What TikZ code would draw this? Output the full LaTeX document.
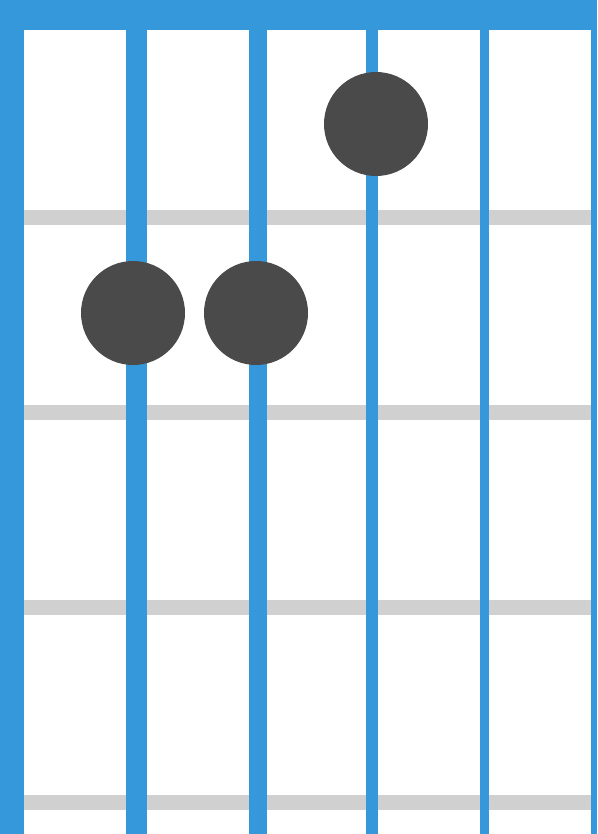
\documentclass[tikz,border=0pt]{standalone}
\definecolor{fb}{HTML}{3498DB}
\definecolor{fg}{HTML}{D0D0D0}
\definecolor{dot}{HTML}{4A4A4A}
\begin{document}
\begin{tikzpicture}[x=1pt,y=-1pt,
  fretbar/.style={fill=fg,draw=none},
  strbar/.style={fill=fb,draw=none},
  fingerdot/.style={circle,fill=dot,draw=none,minimum size=104pt,inner sep=0pt}]
\useasboundingbox (0,0) rectangle (597,834);
\fill[white] (0,0) rectangle (597,834);
% frets
\foreach \y in {210,405,600,795} \fill[fretbar] (0,\y) rectangle (597,\y+15);
% strings
\fill[strbar] (0,0) rectangle (24,834);
\fill[strbar] (126,0) rectangle (147,834);
\fill[strbar] (249,0) rectangle (267,834);
\fill[strbar] (366,0) rectangle (378,834);
\fill[strbar] (480,0) rectangle (489,834);
\fill[strbar] (591,0) rectangle (597,834);
% nut
\fill[strbar] (0,0) rectangle (597,30);
% dots
\node[fingerdot] (d1) at (376,124) {};
\node[fingerdot] (d2) at (133,313) {};
\node[fingerdot] (d3) at (256,313) {};
\end{tikzpicture}
\end{document}
